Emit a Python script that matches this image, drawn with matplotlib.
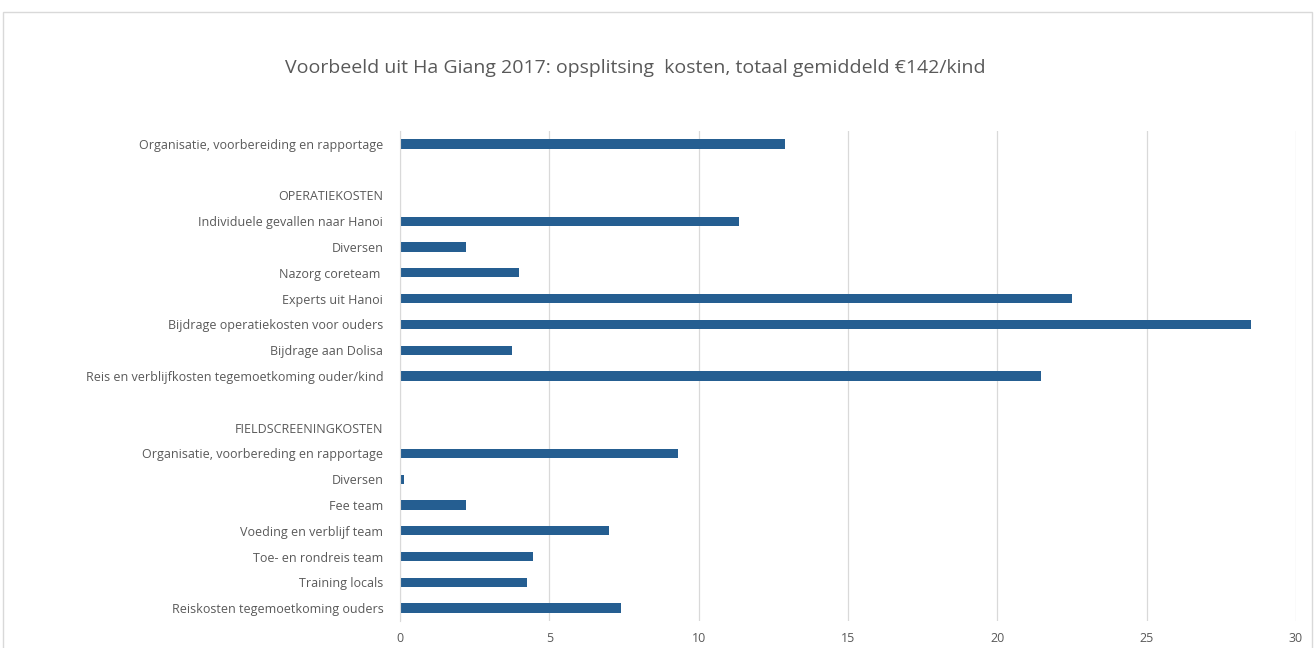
import matplotlib.pyplot as plt
from matplotlib.patches import Rectangle

# Categories top to bottom; '' marks an empty row, headers carry no bar
labels = ["Organisatie, voorbereiding en rapportage", "",
          "OPERATIEKOSTEN",
          "Individuele gevallen naar Hanoi", "Diversen", "Nazorg coreteam ",
          "Experts uit Hanoi", "Bijdrage operatiekosten voor ouders",
          "Bijdrage aan Dolisa",
          "Reis en verblijfkosten tegemoetkoming ouder/kind", "",
          "FIELDSCREENINGKOSTEN",
          "Organisatie, voorbereding en rapportage", "Diversen", "Fee team",
          "Voeding en verblijf team", "Toe- en rondreis team",
          "Training locals", "Reiskosten tegemoetkoming ouders"]
values = [12.9, 0, 0,
          11.35, 2.2, 4.0, 22.5, 28.5, 3.75, 21.45, 0, 0,
          9.3, 0.15, 2.2, 7.0, 4.45, 4.25, 7.4]
xticks = [0, 5, 10, 15, 20, 25, 30]

plt.rcParams['font.family'] = ['Open Sans', 'DejaVu Sans']
fig = plt.figure(figsize=(13.15, 6.48), dpi=100)
fig.patches.append(Rectangle((3 / 1315, -0.01), 1309 / 1315, 1 - 12 / 648 + 0.01,
                             transform=fig.transFigure, fill=False,
                             edgecolor='#d9d9d9', linewidth=1))
ax = fig.add_axes([400 / 1315, 1 - 621 / 648, 896 / 1315, 490 / 648])

ypos = list(range(len(labels)))
ax.barh(ypos, values, height=0.36, color='#255e91')
ax.set_ylim(len(labels) - 0.5, -0.5)
ax.set_xlim(0, 30)
ax.set_xticks(xticks)
ax.set_yticks(ypos)
ax.set_yticklabels(labels)
ax.tick_params(axis='both', length=0, labelsize=9, colors='#595959')
ax.tick_params(axis='y', pad=12)
ax.tick_params(axis='x', pad=8)
ax.grid(axis='x', color='#d9d9d9', linewidth=0.9)
ax.set_axisbelow(True)
for s in ['top', 'right', 'bottom']:
    ax.spines[s].set_visible(False)
ax.spines['left'].set_color('#d9d9d9')

fig.text(635 / 1315, 1 - 68 / 648, "Voorbeeld uit Ha Giang 2017: opsplitsing  kosten, "
         "totaal gemiddeld €142/kind", ha='center', va='center',
         fontsize=14, color='#595959')

fig.savefig('out.png', dpi=100)
